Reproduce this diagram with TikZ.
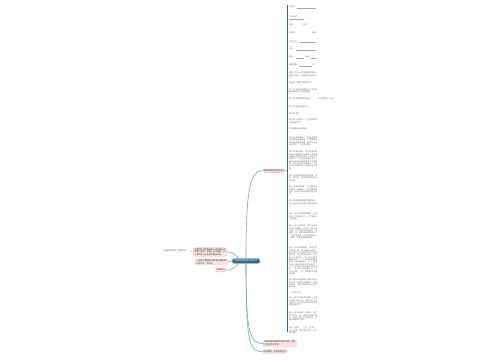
\documentclass[tikz,border=0pt]{standalone}
\usepackage{fontspec}
\newfontfamily\cjk{Noto Sans CJK SC}
\XeTeXlinebreaklocale "zh"
\XeTeXlinebreakskip=0pt plus 0.6pt
\definecolor{mainblue}{HTML}{2D6A8C}
\definecolor{linkc}{HTML}{7BA3B5}
\definecolor{pinkf}{HTML}{FCE3E3}
\definecolor{pinkd}{HTML}{F0B4B4}
\definecolor{txt}{HTML}{6A6A6A}
\begin{document}
\begin{tikzpicture}[x=1pt,y=-1pt,
  tiny/.style={font=\cjk\fontsize{1.9}{2.35}\selectfont, text=txt},
  blk/.style={tiny, anchor=north west, inner sep=0pt, text width=28pt, align=justify},
  frm/.style={tiny, anchor=base west, inner sep=0pt},
  uline/.style={draw=txt!60, line width=0.2pt},
  pinkbox/.style={draw=pinkd, fill=pinkf, rounded corners=1.5pt, inner xsep=1.2pt, inner ysep=0.7pt,
    font=\cjk\fontsize{2.05}{2.6}\selectfont, text=black!75, align=left},
  mainbox/.style={fill=mainblue, draw=mainblue!70, rounded corners=2.5pt, inner xsep=2.4pt, inner ysep=1.4pt,
    font=\cjk\fontsize{2.3}{2.8}\selectfont, text=white},
  link/.style={draw=linkc, line width=0.6pt},
  barline/.style={draw=mainblue, line width=0.9pt},
  lbl/.style={font=\cjk\fontsize{2}{2.5}\selectfont, text=txt, inner sep=0.3pt}
]
\useasboundingbox (0,0) rectangle (500,360);

% central node
\node[mainbox] (c) at (246,261) {简单房屋租赁合同范本};

% left children
\node[pinkbox, text width=31pt] (A) at (210,252) {房屋租赁合同是出租人将房屋交付承租人使用，承租人支付租金，并于合同终止时返还房屋的协议。};
\node[pinkbox, text width=30pt] (B) at (211.5,262) {下面是小编整理的简单房屋租赁合同范本，供参考。};
\node[pinkbox] (C) at (220.7,270.2) {合同范文};
\node[lbl] (L) at (176,251) {房屋租赁合同（租房协议）};

% right / top and bottom children
\node[pinkbox] (T) at (274,170.7) {简单房屋租赁合同范本};
\node[pinkbox, text width=31pt] (D1) at (280,343.5) {更多房屋租赁合同相关内容，请关注合同范本栏目。};
\node[pinkbox] (D2) at (275,351.5) {相关推荐：租房合同范本};

% bar
\coordinate (barT) at (287,5);
\coordinate (barB) at (287,332);
\draw[barline] (barT) -- (barB);

% connectors
\draw[link] (c.north) .. controls (246,190) and (250,170.7) .. (T.west);
\draw[link] (c.south) .. controls (246,335) and (250,343.5) .. (D1.west);
\draw[link] (c.south) .. controls (246,347) and (250,351.5) .. (D2.west);
\draw[link] (A.east) .. controls (236,252) and (238,259) .. ([xshift=7pt]c.north west);
\draw[link] (B.east) -- (c.west);
\draw[link] (C.east) .. controls (236,270) and (238,263) .. ([xshift=7pt]c.south west);
\draw[draw=txt!50, line width=0.3pt] (A.west) -- (L.east);
\draw[link, line width=0.5pt] (T.east) -- (barT |- T.east);

% form part
\node[frm] (f1) at (289,7.5) {出租方：};
\draw[uline] (297,7.9) -- (316,7.9);
\node[frm] (f2) at (289,17) {身份证号：};
\draw[uline] (289,19.2) -- (304,19.2);
\node[frm] (f3) at (289,25.5) {电话：};
\node[frm] (f3b) at (303,25.5) {地址：};
\node[frm] (f4) at (289,33.3) {承租方：};
\node[frm] (f4b) at (312,33.3) {电话};
\node[frm] (f5) at (289,42) {身份证号：};
\draw[uline] (299,42.4) -- (316,42.4);
\node[frm] (f6) at (289,49.5) {地址：};
\draw[uline] (296,49.9) -- (316,49.9);
\node[frm] (f7) at (289,57.5) {住址：};
\draw[uline] (296,57.9) -- (304,57.9);
\node[frm] (f7b) at (305,57.5) {电话：};
\draw[uline] (311,57.9) -- (316,57.9);
\node[frm] (f8) at (289,65.5) {房屋坐落：};
\draw[uline] (299,65.9) -- (312,65.9);
\node[frm] (f8b) at (312,65.5) {号};

% clauses
\node[blk] (b1) at (289,72) {根据《中华人民共和国民法典》及有关规定，为明确双方权利义务，};
\node[blk] (b2) at (289,81.5) {经协商一致签订本合同如下：};
\node[blk] (b3) at (289,88.5) {第一条 甲方将自有的位于本市的房屋出租给乙方居住使用。};
\node[blk] (b4) at (289,97.6) {第二条 租赁期限自某年起};
\node[lbl, anchor=west, font=\cjk\fontsize{1.9}{2.3}\selectfont] (S) at (318,99) {约定租期为一年止};
\draw[draw=txt!50, line width=0.3pt] (b4.east) -- (S.west);
\node[blk] (b5) at (289,105.6) {第三条 租金每月若干元};
\node[blk] (b6) at (289,112.6) {第四条 押金};
\node[blk] (b7) at (289,119) {第五条 付款方式：乙方按季度支付租金给甲方。};
\node[blk] (b8) at (289,128) {甲方收款后出具收据。};
\node[blk] (b9) at (289,136.5) {第六条 租赁期间，乙方应合理使用房屋及附属设施，不得擅自改变房屋结构和用途，使用不当造成损坏的，乙方负责修复。};
\node[blk] (b10) at (289,151) {第七条 租赁期间，甲方应保证房屋及其设施的安全使用，房屋及设施出现自然损坏的，由甲方负责维修，乙方应及时通知甲方。因甲方未及时维修造成乙方损失的，甲方应承担赔偿责任。乙方不得将房屋转租、转借给他人使用。};
\node[blk] (b11) at (289,174.8) {第八条 租赁期间发生的水费、电费、燃气费、物业费等费用由乙方承担。};
\node[blk] (b12) at (289,186) {第九条 租赁期满，乙方需继续承租的，应提前一个月书面通知甲方，经甲方同意后重新签订合同。};
\node[blk] (b13) at (289,200) {第十条 租赁期满或合同解除后，乙方应按时将房屋及设施交还甲方。};
\node[blk] (b14) at (289,213) {第十一条 甲方出售房屋的，应提前三个月通知乙方，乙方享有优先购买权。};
\node[blk] (b15) at (289,225) {第十二条 违约责任：甲方未按约定交付房屋的，应向乙方支付违约金；乙方逾期支付租金的，每逾期一日，应按月租金的百分之一支付违约金。乙方逾期超过十五日的，甲方有权解除合同。};
\node[blk] (b16) at (289,247) {第十三条 合同的解除：经甲乙双方协商一致，可以解除本合同。因不可抗力导致合同无法继续履行的，本合同自行解除。乙方有下列情形之一的，甲方有权解除合同：（一）未经同意擅自转租、转借房屋的；（二）擅自拆改房屋结构或改变用途的；（三）利用房屋从事违法活动的；（四）拖欠租金累计达一个月以上的；（五）故意损坏房屋设施的。};
\node[blk] (b17) at (289,279) {第十四条 本合同履行过程中发生争议的，由双方协商解决；协商不成的，可向房屋所在地人民法院起诉。};
\node[blk] (b18) at (289,291.3) {（以下无正文）};
\node[blk] (b19) at (289,297) {第十五条 本合同未尽事宜，经甲乙双方协商一致，可另行订立补充协议，补充协议与本合同具有同等法律效力。};
\node[blk] (b20) at (289,312) {第十六条 本合同一式两份，甲乙双方各执一份，具有同等法律效力，自双方签字之日起生效，附属设施清单为附件。};
\node[blk] (b21) at (289,327) {甲方（签字）：乙方（签字）：签订日期：某年某月某日，双方签章确认。};
\end{tikzpicture}
\end{document}
